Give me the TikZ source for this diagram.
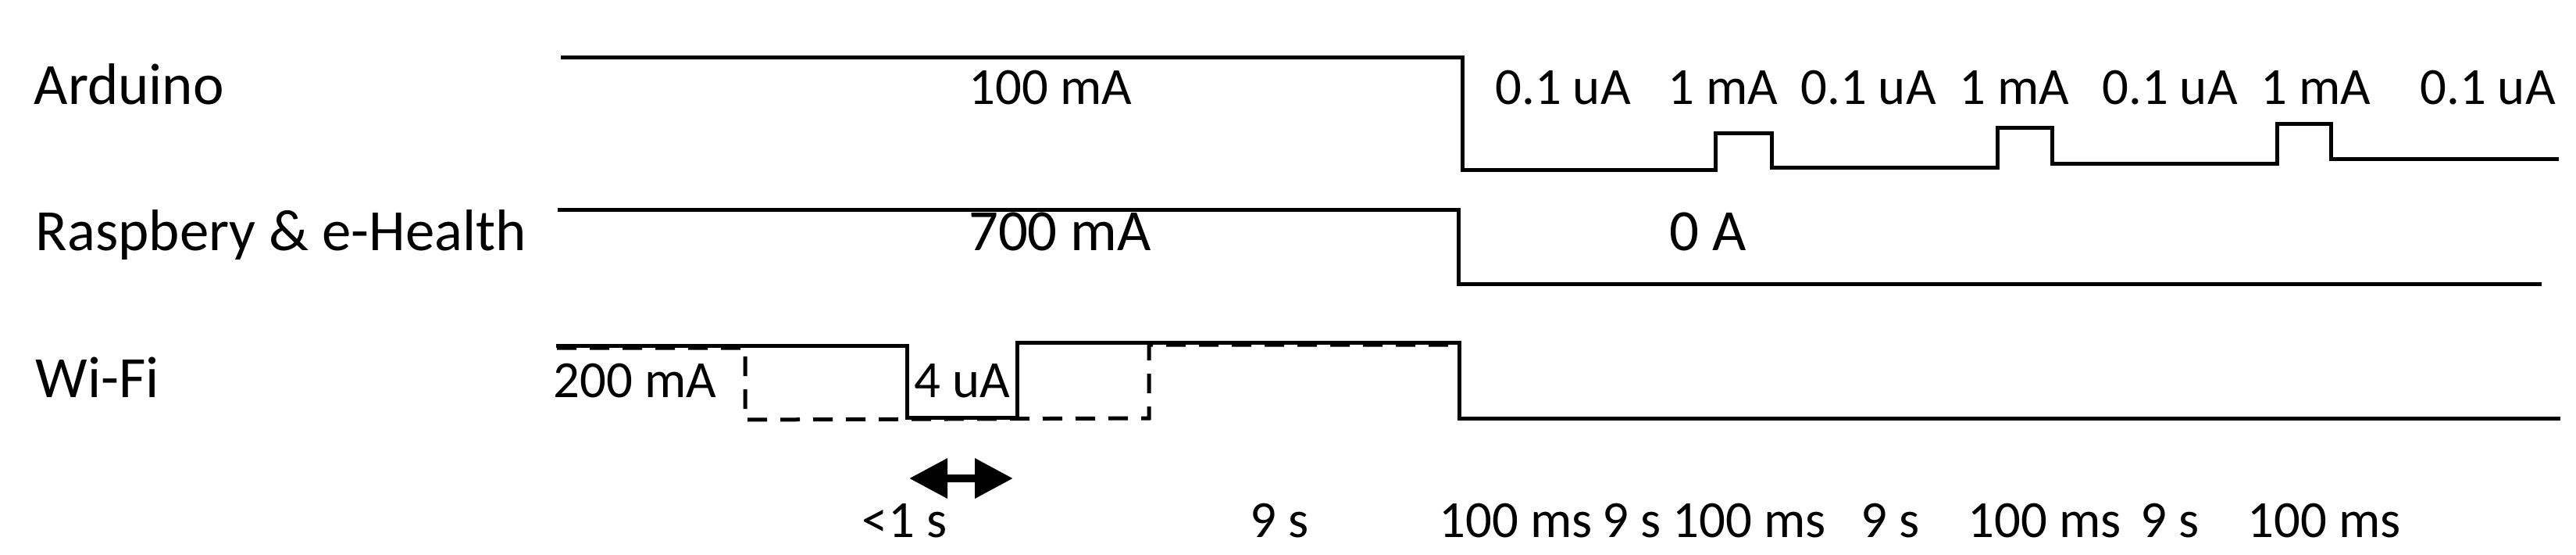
\documentclass[tikz,border=0pt]{standalone}
\usepackage{fontspec}
\setmainfont{Carlito}
\usetikzlibrary{arrows.meta}

\tikzset{
    trace/.style={black, line width=0.5mm},
    dtrace/.style={black, line width=0.5mm, dash pattern=on 2.5mm off 1.7mm},
    lbl/.style={font=\fontsize{19pt}{23pt}\selectfont, anchor=base, inner sep=0pt},
    biglbl/.style={font=\fontsize{21.3pt}{26pt}\selectfont, anchor=base, inner sep=0pt},
    rowname/.style={biglbl, anchor=base west}
}

\begin{document}
\begin{tikzpicture}
    \useasboundingbox (0,0) rectangle (32.98,-7.10);

    % Row names
    \node[rowname] (ard) at (0.43,-1.33) {Arduino};
    \node[rowname] (rasp) at (0.45,-3.20) {Raspbery \& e-Health};
    \node[rowname] (wifi) at (0.45,-5.08) {Wi-Fi};

    % Arduino: on, then sleep with short wake-ups
    \draw[trace] (7.18,-0.73) -- (18.72,-0.73) -- (18.72,-2.17)
        -- (21.96,-2.17) -- (21.96,-1.70) -- (22.68,-1.70) -- (22.68,-2.14)
        -- (25.57,-2.14) -- (25.57,-1.63) -- (26.27,-1.63) -- (26.27,-2.09)
        -- (29.15,-2.09) -- (29.15,-1.58) -- (29.84,-1.58) -- (29.84,-2.03)
        -- (32.76,-2.03);
    \node[lbl] (ardon) at (13.45,-1.33) {100 mA};
    \foreach \x/\t [count=\i] in {20.01/0.1 uA, 22.06/1 mA, 23.92/0.1 uA,
        25.79/1 mA, 27.78/0.1 uA, 29.65/1 mA, 31.85/0.1 uA}
        \node[lbl] (ard\i) at (\x,-1.33) {\t};

    % Raspbery & e-Health
    \draw[trace] (7.14,-2.68) -- (18.67,-2.68) -- (18.67,-3.63) -- (32.54,-3.63);
    \node[biglbl] (raspon) at (13.57,-3.20) {700 mA};
    \node[biglbl] (raspoff) at (21.87,-3.20) {0 A};

    % Wi-Fi (solid and dashed case)
    \draw[trace] (7.12,-4.42) -- (11.61,-4.42) -- (11.61,-5.34) -- (13.02,-5.34)
        -- (13.02,-4.38) -- (18.68,-4.38) -- (18.68,-5.35) -- (32.78,-5.35);
    \draw[dtrace] (7.13,-4.45) -- (9.54,-4.45) -- (9.54,-5.37) -- (14.71,-5.35)
        -- (14.71,-4.41) -- (18.68,-4.41);
    \node[lbl] (wifion) at (8.13,-5.08) {200 mA};
    \node[lbl] (wifioff) at (12.32,-5.08) {4 uA};

    % Duration arrow
    \coordinate (sl) at (11.64,-6.12);
    \coordinate (sr) at (12.97,-6.12);
    \draw[line width=1mm, {Triangle[length=4.9mm,width=4.9mm]}-{Triangle[length=4.9mm,width=4.9mm]}] (sl) -- (sr);

    % Time axis
    \foreach \x/\t [count=\i] in {11.58/<1 s, 16.38/9 s, 19.41/100 ms, 20.89/9 s,
        22.40/100 ms, 24.20/9 s, 26.18/100 ms, 27.78/9 s, 29.76/100 ms}
        \node[lbl] (t\i) at (\x,-6.87) {\t};
\end{tikzpicture}
\end{document}
